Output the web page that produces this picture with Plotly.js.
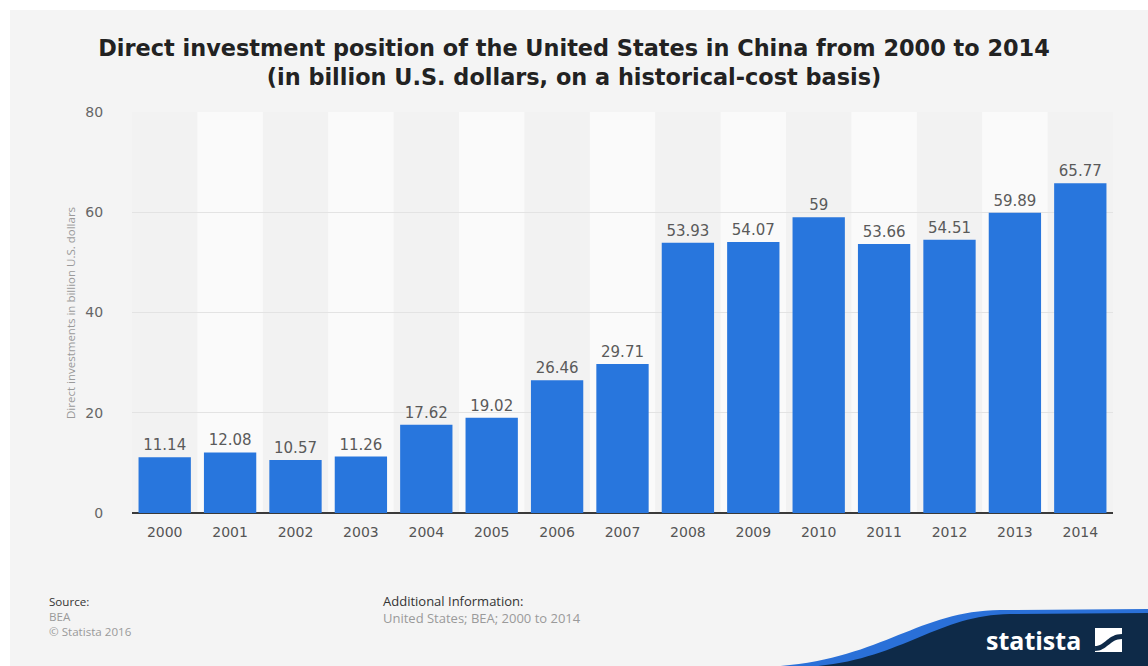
<!DOCTYPE html>
<html>
<head>
<meta charset="utf-8">
<script src="https://cdn.plot.ly/plotly-3.0.1.min.js"></script>
<style>html,body{margin:0;padding:0;background:#fff;}#chart{width:1148px;height:666px;}</style>
</head>
<body>
<div id="chart"></div>
<script>
const years = ["2000","2001","2002","2003","2004","2005","2006","2007","2008","2009","2010","2011","2012","2013","2014"];
const investment = [11.14,12.08,10.57,11.26,17.62,19.02,26.46,29.71,53.93,54.07,59,53.66,54.51,59.89,65.77];
const yTicks = [0,20,40,60,80];

const W = 1148, H = 666, M = {l:132, r:35, t:112, b:153};
const PW = W - M.l - M.r, PH = H - M.t - M.b;
const px = x => (x - M.l) / PW;
const py = y => (M.t + PH - y) / PH;
const pt = (x, y) => px(x).toFixed(4) + ',' + py(y).toFixed(4);

const shapes = [];
// alternating column bands
years.forEach((y, i) => {
  if (i % 2 === 1) shapes.push({type:'rect', xref:'x', yref:'paper', x0:i-0.5, x1:i+0.5, y0:0, y1:1,
    fillcolor:'#fafafa', line:{width:0}, layer:'below'});
});
// white border strips
shapes.push({type:'rect', xref:'paper', yref:'paper', x0:px(0), x1:px(W), y0:py(0), y1:py(10), fillcolor:'#ffffff', line:{width:0}});
shapes.push({type:'rect', xref:'paper', yref:'paper', x0:px(0), x1:px(10), y0:py(0), y1:py(H), fillcolor:'#ffffff', line:{width:0}});
// statista wave
shapes.push({type:'path', xref:'paper', yref:'paper', fillcolor:'#2a70d8', line:{width:0},
  path:'M'+pt(765,667)+' C'+pt(880,662)+' '+pt(915,611)+' '+pt(1000,610)+' L'+pt(1149,609)+' L'+pt(1149,667)+' Z'});
shapes.push({type:'path', xref:'paper', yref:'paper', fillcolor:'#0e2a48', line:{width:0},
  path:'M'+pt(805,667)+' C'+pt(900,662)+' '+pt(935,615)+' '+pt(1010,614)+' L'+pt(1149,613)+' L'+pt(1149,667)+' Z'});
// logo icon
shapes.push({type:'rect', xref:'paper', yref:'paper', x0:px(1095), x1:px(1122), y0:py(652), y1:py(628), fillcolor:'#ffffff', line:{width:0}});
shapes.push({type:'path', xref:'paper', yref:'paper', fillcolor:'#0e2a48', line:{width:0},
  path:'M'+pt(1095,646)+' C'+pt(1105,646)+' '+pt(1108,634)+' '+pt(1122,634)+' L'+pt(1122,639)+' C'+pt(1110,639)+' '+pt(1107,651)+' '+pt(1095,651)+' Z'});

const sans = '"Open Sans", sans-serif';
const annotations = [
  {text:'Direct investments in billion U.S. dollars', x:px(70), y:py(313), textangle:-90,
   font:{family:sans, size:11.5, color:'#9a9a9a'}},
  {text:'<span style="color:#333">Source:</span><br>BEA<br>© Statista 2016', x:px(47), y:py(616), xanchor:'left', align:'left',
   font:{family:sans, size:11.6, color:'#9a9a9a'}},
  {text:'<span style="color:#333">Additional Information:</span><br>United States; BEA; 2000 to 2014', x:px(381), y:py(609.5), xanchor:'left', align:'left',
   font:{family:sans, size:13, color:'#9a9a9a'}},
  {text:'<b>statista</b>', x:px(1033), y:py(640), font:{family:sans, size:25, color:'#ffffff'}}
].map(a => Object.assign({xref:'paper', yref:'paper', showarrow:false, xanchor:'center', yanchor:'middle'}, a));

const trace = {
  type:'bar', x:years, y:investment,
  marker:{color:'#2876dd'},
  text:investment.map(String), textposition:'outside', cliponaxis:false,
  textfont:{family:'"DejaVu Sans", sans-serif', size:15, color:'#5a5a5a'},
  hoverinfo:'x+y'
};

const layout = {
  width:W, height:H,
  margin:M,
  paper_bgcolor:'#f4f4f4', plot_bgcolor:'#f2f2f2',
  bargap:0.2,
  showlegend:false,
  title:{text:'<b>Direct investment position of the United States in China from 2000 to 2014<br>(in billion U.S. dollars, on a historical-cost basis)</b>',
    x:0.5, xref:'container', xanchor:'center', y:1-56/H, yref:'container', yanchor:'top',
    font:{family:'"DejaVu Sans", sans-serif', size:22.4, color:'#222'}},
  xaxis:{type:'category', tickvals:years, ticktext:years, showgrid:false, zeroline:false, showline:false,
    ticks:'outside', ticklen:6, tickcolor:'rgba(0,0,0,0)',
    tickfont:{family:'"DejaVu Sans", sans-serif', size:14, color:'#555'}},
  yaxis:{range:[0,80], tickvals:yTicks, ticktext:yTicks.map(String), showgrid:true, gridcolor:'#e3e3e3', gridwidth:1,
    zeroline:true, zerolinecolor:'#3a3a3a', zerolinewidth:1.5, showline:false,
    ticks:'outside', ticklen:25, tickcolor:'rgba(0,0,0,0)',
    tickfont:{family:'"DejaVu Sans", sans-serif', size:14, color:'#666'}},
  shapes:shapes,
  annotations:annotations
};

Plotly.newPlot('chart', [trace], layout, {displayModeBar:false, staticPlot:true});
</script>
</body>
</html>
